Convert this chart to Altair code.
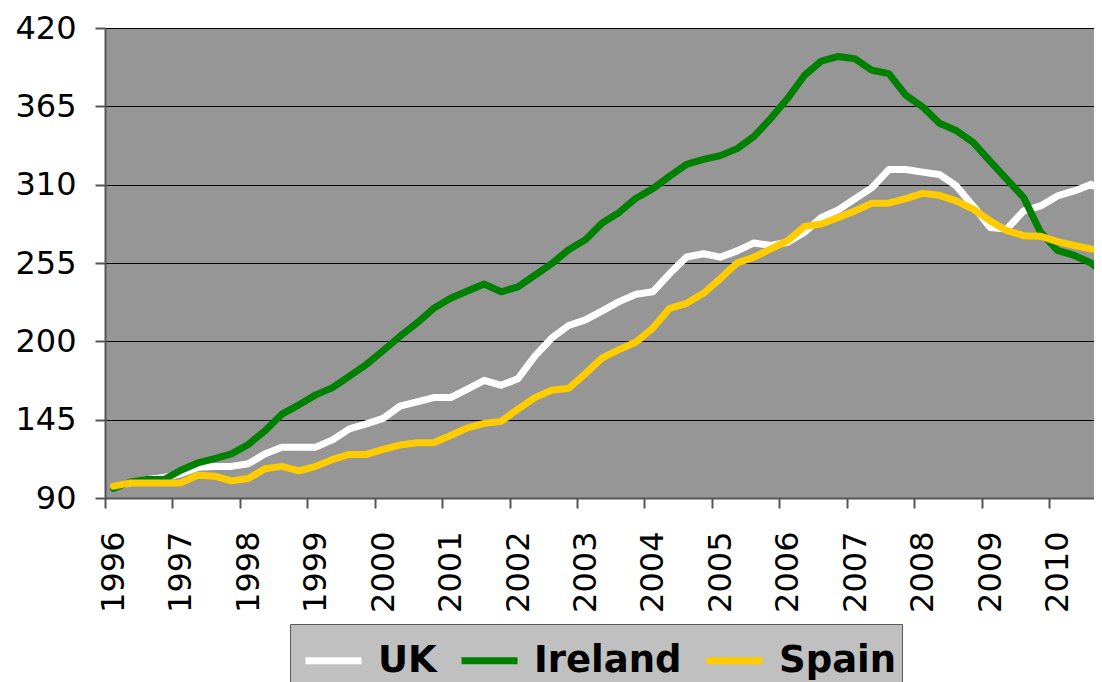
import altair as alt
import pandas as pd

# Quarterly house price index, 1996 Q1 .. 2010 Q4 (60 quarters)
quarter_index = list(range(60))

uk = [97.4, 100.6, 103, 104.4, 107, 111.5, 112.2, 112.2, 114, 121,
      125.7, 125.7, 125.7, 130.8, 138.5, 142, 145.9, 154.5, 157.5, 160.5,
      160.5, 166.4, 172.6, 169.1, 173.8, 189.6, 202.3, 211.1, 215.1, 221.4,
      227.9, 233, 234.8, 247.6, 259.2, 261.5, 259.1, 263.5, 269.1, 267.3,
      269.6, 276.6, 287, 292.3, 300.2, 307.9, 320.6, 320.6, 318.8, 317.2,
      309.1, 295.1, 280, 278.9, 291.6, 295.1, 302.1, 305.6, 310.2, 304]

ireland = [96.7, 101.3, 103, 103, 109.5, 114.6, 117.6, 121, 127.6, 137.3,
           148.9, 155.4, 162.4, 167.5, 175.6, 183.7, 193.5, 203.5, 212.8, 223.2,
           230.2, 235.3, 240.2, 234.8, 238.3, 246.4, 254.5, 264.3, 271.3, 283.1,
           290.5, 300.5, 307.2, 316, 324.2, 327.7, 330.4, 335.3, 343.9, 356.6,
           370.6, 386.8, 396.8, 400, 398.4, 390.3, 388, 372.9, 364.7, 353.1,
           348, 339.7, 326.5, 313.7, 300.9, 276.6, 263.8, 260.3, 255, 245]

spain = [98.3, 100.6, 100.6, 100.6, 100.6, 106, 105.3, 102, 103.7, 110.6,
         112.2, 109, 112.2, 117.1, 120.6, 120.6, 124.1, 127.2, 128.8, 128.8,
         133.9, 139.2, 142.4, 143.8, 152.4, 160.5, 165.6, 167, 177.3, 188.4,
         194.2, 199.5, 209.3, 223.2, 226.7, 233.7, 244.1, 255, 259.1, 264.9,
         270.7, 280.7, 282.4, 287, 291.6, 297, 297, 300.2, 303.9, 302.5,
         298.6, 292.8, 284.7, 277.7, 274.2, 273.8, 270, 267.3, 264.9, 263.8]

series_names = ["UK", "Ireland", "Spain"]
series_colors = ["#FFFFFF", "#008000", "#FFCC00"]
year_tick_positions = list(range(0, 57, 4))   # quarter boundaries at each year start
y_tick_values = [90, 145, 200, 255, 310, 365, 420]

rows = []
for k, (name, vals) in enumerate(zip(series_names, [uk, ireland, spain])):
    for q, v in zip(quarter_index, vals):
        rows.append({"series": name, "q": q + 0.5, "value": v, "k": k})
df = pd.DataFrame(rows)

axis_font = "DejaVu Sans"

chart = alt.Chart(df).mark_line(
    strokeWidth=7, clip=True, strokeCap="round", strokeJoin="round"
).encode(
    x=alt.X(
        "q:Q",
        scale=alt.Scale(domain=[0, 58.67], nice=False, zero=False),
        axis=alt.Axis(
            values=year_tick_positions,
            labelExpr="1996 + datum.value / 4",
            labelAngle=270,
            labelOffset=8.5,
            labelFont=axis_font,
            labelFontSize=32,
            labelColor="black",
            labelPadding=23,
            tickSize=10,
            tickColor="#555555",
            tickWidth=2,
            domainColor="#555555",
            domainWidth=2,
            grid=False,
            title=None,
        ),
    ),
    y=alt.Y(
        "value:Q",
        scale=alt.Scale(domain=[90, 420], nice=False, zero=False),
        axis=alt.Axis(
            values=y_tick_values,
            labelFont=axis_font,
            labelFontSize=32,
            labelColor="black",
            labelPadding=19,
            tickSize=10,
            tickColor="#555555",
            tickWidth=2,
            domainColor="#555555",
            domainWidth=2,
            grid=True,
            gridColor="#000000",
            gridWidth=1,
            gridOpacity=1,
            title=None,
        ),
    ),
    color=alt.Color(
        "series:N",
        scale=alt.Scale(domain=series_names, range=series_colors),
        legend=alt.Legend(
            title=None,
            orient="none",
            legendX=185,
            legendY=596,
            direction="horizontal",
            fillColor="#C0C0C0",
            strokeColor="#5A5A5A",
            padding=5,
            symbolType="stroke",
            symbolSize=3136,
            symbolStrokeWidth=7,
            symbolOffset=7,
            labelOffset=13,
            columnPadding=10,
            labelFont=axis_font,
            labelFontWeight="bold",
            labelFontSize=37,
            labelColor="black",
            labelLimit=400,
        ),
    ),
    order=alt.Order("k:Q"),
).properties(
    width=989,
    height=470,
    padding={"left": 97, "top": 20, "right": 0, "bottom": 184},
    autosize=alt.AutoSizeParams(type="none"),
    background="white",
).configure_view(
    fill="#969696",
    strokeWidth=0,
)

chart.save("out.html", embed_options={"renderer": "svg", "actions": False})
